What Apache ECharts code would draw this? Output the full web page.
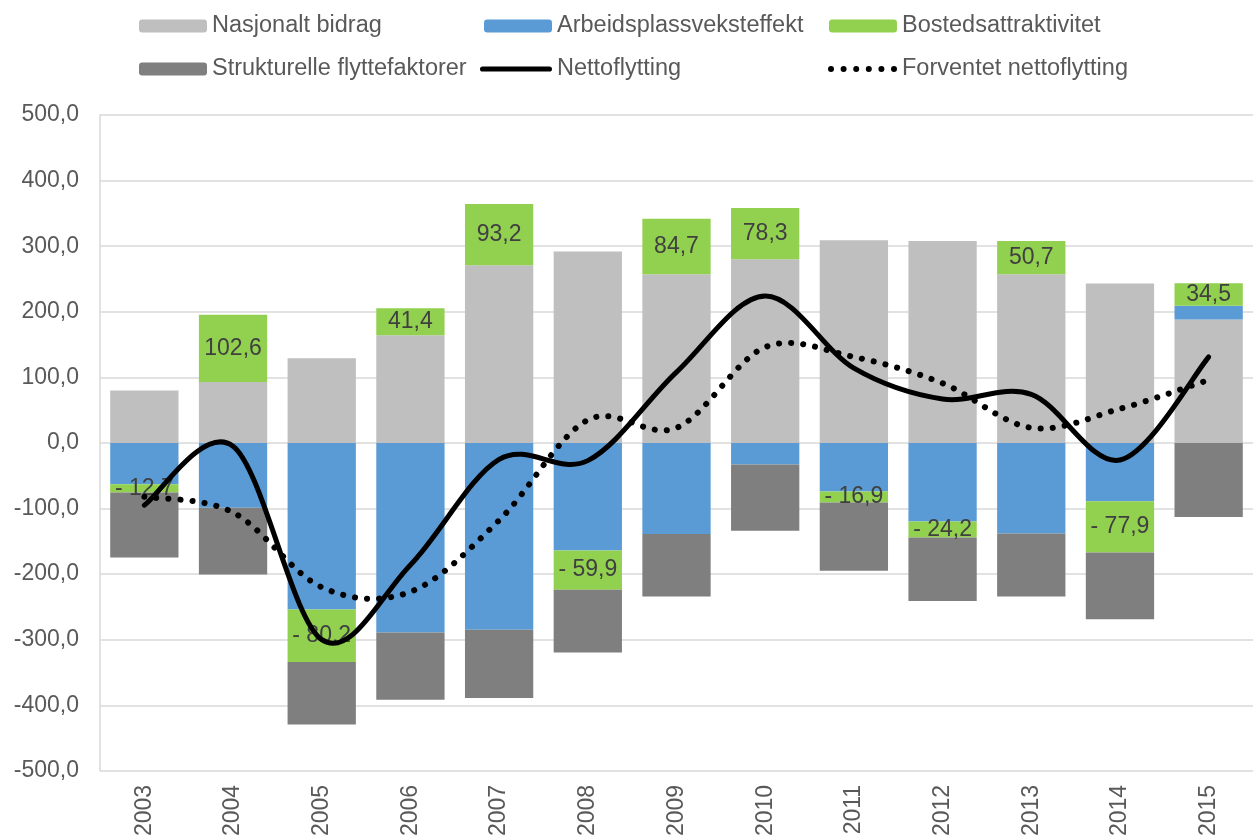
<!DOCTYPE html>
<html>
<head>
<meta charset="utf-8">
<script src="https://cdn.jsdelivr.net/npm/echarts@6/dist/echarts.min.js"></script>
<style>
    html, body { margin: 0; padding: 0; background: #fff; }
    #chart { width: 1253px; height: 839px; }
</style>
</head>
<body>
<div id="chart"></div>
<script>
    // data
    const years = ['2003', '2004', '2005', '2006', '2007', '2008', '2009', '2010', '2011', '2012', '2013', '2014', '2015']
    const nasjonalt = [80, 93, 129, 164, 271, 292, 257, 280, 309, 308, 257, 243, 188]
    const arbeidsplass = [-63, -98.7, -254, -289, -285, -164, -139, -33, -74, -120, -138, -89, 21]
    const bosted = [-12.7, 102.6, -80.2, 41.4, 93.2, -59.9, 84.7, 78.3, -16.9, -24.2, 50.7, -77.9, 34.5]
    const strukturelle = [-99, -102, -95, -102.5, -104, -95.5, -95, -101, -104, -97, -96, -102, -113]
    const netto = [-95, -5, -300, -186, -25, -27, 108, 224, 114, 67, 74, -26, 131]
    const forventet = [-82, -106, -220, -227, -118, 35, 23, 146, 131, 91, 23, 52, 96]

    const font = 'Liberation Sans, Arial, sans-serif'

    function comma(v) {
        return v.toFixed(1).replace('.', ',')
    }

    // Excel style smoothed line (catmull-rom, no clamping like echarts' smooth)
    function smoothPath(values, api) {
        const pts = values.map(function (v, i) {
            return api.coord([i, v])
        })
        const n = pts.length
        let d = 'M' + pts[0][0] + ' ' + pts[0][1]
        for (let i = 0; i < n - 1; i++) {
            const p0 = pts[Math.max(i - 1, 0)]
            const p1 = pts[i]
            const p2 = pts[i + 1]
            const p3 = pts[Math.min(i + 2, n - 1)]
            const c1x = p1[0] + (p2[0] - p0[0]) / 6
            const c1y = p1[1] + (p2[1] - p0[1]) / 6
            const c2x = p2[0] - (p3[0] - p1[0]) / 6
            const c2y = p2[1] - (p3[1] - p1[1]) / 6
            d += ' C' + c1x + ' ' + c1y + ' ' + c2x + ' ' + c2y + ' ' + p2[0] + ' ' + p2[1]
        }
        return d
    }

    function curveSeries(name, values, lineStyle) {
        return {
            name: name,
            type: 'custom',
            z: 5,
            itemStyle: { color: '#000' },
            encode: { x: 0, y: 1 },
            data: values.map(function (v, i) {
                return [i, v]
            }),
            renderItem: function (params, api) {
                if (params.dataIndex !== 0) {
                    return
                }
                return {
                    type: 'path',
                    shape: { pathData: smoothPath(values, api) },
                    style: Object.assign({ fill: 'none', stroke: '#000' }, lineStyle)
                }
            }
        }
    }

    // legend icons for the two curves
    const solidIcon = 'path://M2.5,0 L66.5,0 A2.5,2.5 0 0 1 66.5,5 L2.5,5 A2.5,2.5 0 0 1 2.5,0 Z'
    let dotIcon = 'path://'
    for (let k = 0; k < 6; k++) {
        const cx = 3 + k * 12.6
        dotIcon += 'M' + (cx - 3) + ',3 A3,3 0 1 0 ' + (cx + 3) + ',3 A3,3 0 1 0 ' + (cx - 3) + ',3 Z '
    }

    // one legend per cell so the three columns line up like in Excel
    function legendItem(item, left, top, width) {
        return {
            data: [item],
            left: left,
            top: top,
            padding: 0,
            itemWidth: width || 68,
            itemHeight: 13,
            itemGap: 0,
            itemTextGap: 5,
            selectedMode: false,
            textStyle: {
                fontFamily: font,
                fontSize: 23.5,
                color: '#595959'
            }
        }
    }

    const chart = echarts.init(document.getElementById('chart'))

    const option = {
        animation: false,
        legend: [
            legendItem('Nasjonalt bidrag', 139, 14),
            legendItem('Arbeidsplassveksteffekt', 484, 14),
            legendItem('Bostedsattraktivitet', 829, 14),
            legendItem('Strukturelle flyttefaktorer', 139, 57),
            legendItem({ name: 'Nettoflytting', icon: solidIcon }, 480, 57, 72),
            legendItem({ name: 'Forventet nettoflytting', icon: dotIcon }, 828, 57, 69)
        ],
        grid: {
            left: 100,
            right: -13,
            top: 115,
            bottom: 68
        },
        xAxis: {
            type: 'category',
            data: years,
            axisLine: { show: false },
            axisTick: { show: false },
            axisLabel: {
                rotate: 90,
                margin: 14,
                fontFamily: font,
                fontSize: 23,
                color: '#595959'
            }
        },
        yAxis: {
            type: 'value',
            min: -500,
            max: 500,
            interval: 100,
            axisLine: {
                show: true,
                lineStyle: { color: '#d9d9d9', width: 1.5 }
            },
            axisTick: { show: false },
            axisLabel: {
                margin: 21,
                fontFamily: font,
                fontSize: 23,
                color: '#595959',
                formatter: comma
            },
            splitLine: {
                lineStyle: { color: '#d9d9d9', width: 1.5 }
            }
        },
        series: [
            {
                name: 'Nasjonalt bidrag',
                type: 'bar',
                stack: 'total',
                barCategoryGap: '23%',
                itemStyle: { color: '#bfbfbf' },
                data: nasjonalt
            },
            {
                name: 'Arbeidsplassveksteffekt',
                type: 'bar',
                stack: 'total',
                itemStyle: { color: '#5b9bd5' },
                data: arbeidsplass
            },
            {
                name: 'Bostedsattraktivitet',
                type: 'bar',
                stack: 'total',
                itemStyle: { color: '#92d050' },
                label: {
                    show: true,
                    position: 'inside',
                    fontFamily: font,
                    fontSize: 23,
                    color: '#404040',
                    formatter: function (p) {
                        return p.value < 0 ? '- ' + comma(-p.value) : comma(p.value)
                    }
                },
                data: bosted
            },
            {
                name: 'Strukturelle flyttefaktorer',
                type: 'bar',
                stack: 'total',
                itemStyle: { color: '#7f7f7f' },
                data: strukturelle
            },
            curveSeries('Nettoflytting', netto, { lineWidth: 5, lineCap: 'round', lineJoin: 'round' }),
            curveSeries('Forventet nettoflytting', forventet, { lineWidth: 6, lineCap: 'round', lineDash: [0.1, 12] })
        ]
    }

    option && chart.setOption(option)
</script>
</body>
</html>
